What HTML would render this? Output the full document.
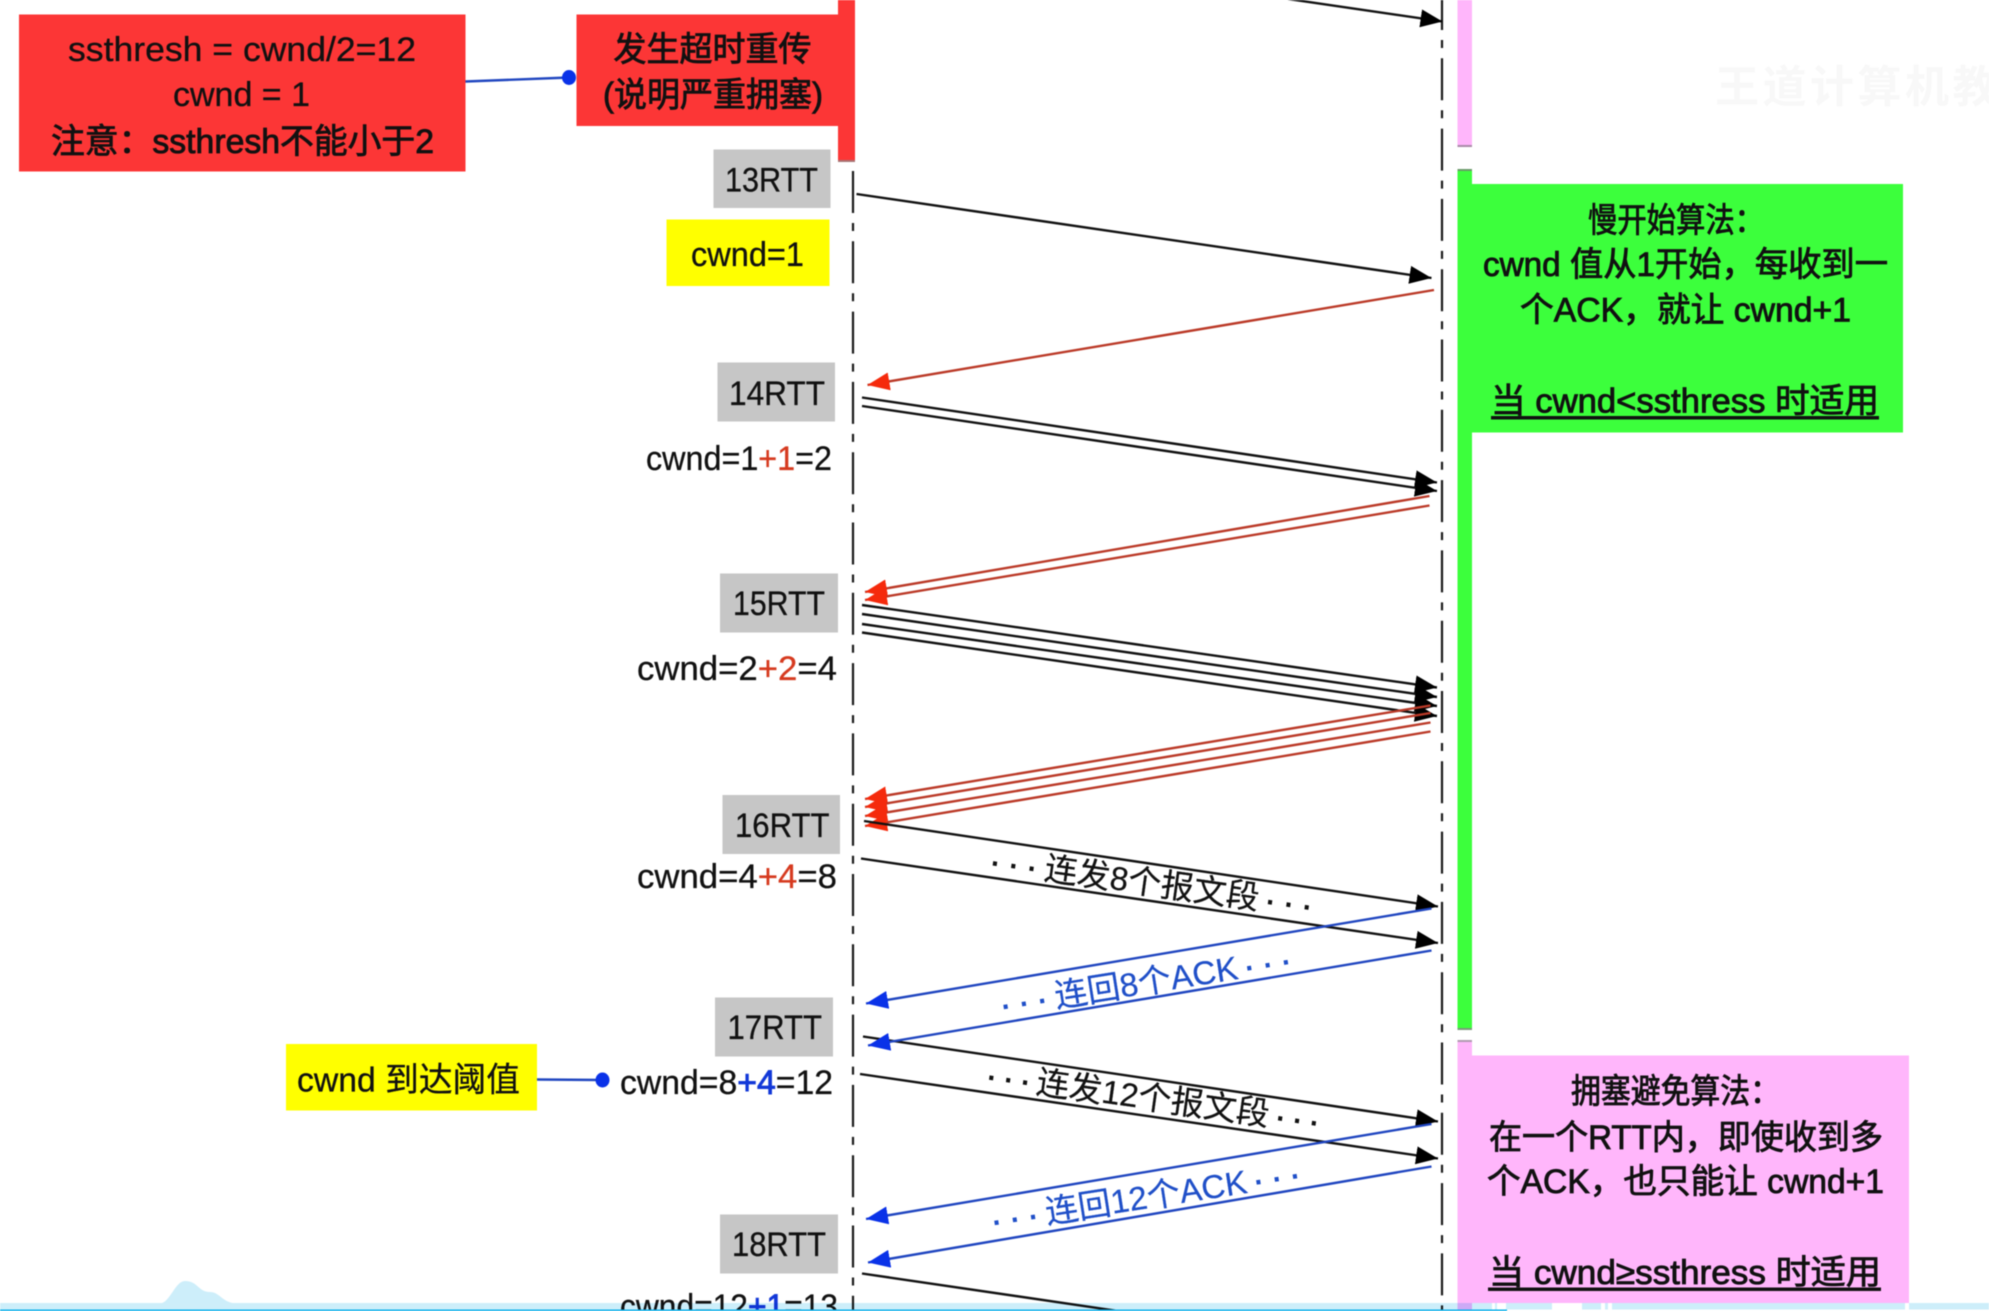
<!DOCTYPE html>
<html lang="zh">
<head>
<meta charset="utf-8">
<title>TCP congestion control</title>
<style>
html,body{margin:0;padding:0;background:#fff;width:1989px;height:1311px;overflow:hidden}
svg{display:block;position:absolute;left:0;top:0;filter:blur(.55px)}
text{font-family:"Liberation Sans","Noto Sans CJK SC",sans-serif;fill:#111}
.t{font-size:34px;stroke:#111;stroke-width:.3px;transform:translateY(1px)}
.b{font-size:34px;stroke:#111;stroke-width:.85px;transform:translateY(1px)}
.r{font-size:33px;stroke:#111;stroke-width:.2px}
.bl{fill:#1f4fc8;stroke:#1f4fc8}
.d{stroke-width:.9px}
</style>
</head>
<body>
<svg width="1989" height="1311" viewBox="0 0 1989 1311" xmlns="http://www.w3.org/2000/svg">
<defs>
<marker id="hk" markerUnits="userSpaceOnUse" markerWidth="24" markerHeight="20" refX="22" refY="9" orient="auto"><path d="M0,0L22,9L0,18Z" fill="#000"/></marker>
<marker id="hr" markerUnits="userSpaceOnUse" markerWidth="24" markerHeight="20" refX="22" refY="9" orient="auto"><path d="M0,0L22,9L0,18Z" fill="#f52a0c"/></marker>
<marker id="hb" markerUnits="userSpaceOnUse" markerWidth="24" markerHeight="20" refX="22" refY="9" orient="auto"><path d="M0,0L22,9L0,18Z" fill="#0a32e8"/></marker>
</defs>

<rect width="1989" height="1311" fill="#fff"/>

<!-- watermark -->
<text x="1715" y="102" font-size="44" font-weight="bold" letter-spacing="3.5" style="fill:#f8f8f8">王道计算机教育</text>

<!-- timelines -->
<g stroke="#1a1a1a" stroke-width="2.2" fill="none" stroke-dasharray="42 10 8 10.3">
<line x1="853" y1="171" x2="853" y2="1311"/>
<line x1="1442" y1="-12" x2="1442" y2="1311"/>
</g>

<!-- red -->
<rect x="19" y="14.5" width="446.5" height="157" fill="#fc3636"/>
<rect x="576.5" y="14.5" width="262" height="111.5" fill="#fc3636"/>
<rect x="838" y="0" width="17" height="160" fill="#fc3636"/>
<rect x="838" y="160" width="17" height="2" fill="#a87474"/>
<line x1="465.5" y1="81.5" x2="569" y2="77.5" stroke="#2046c0" stroke-width="2.4"/>
<ellipse cx="569" cy="77.5" rx="7" ry="7.5" fill="#0a32e8"/>
<text class="t" x="68" y="60" textLength="348" lengthAdjust="spacingAndGlyphs">ssthresh = cwnd/2=12</text>
<text class="t" x="173" y="105" textLength="137" lengthAdjust="spacingAndGlyphs">cwnd = 1</text>
<text class="b" x="51" y="152" textLength="383" lengthAdjust="spacingAndGlyphs">注意：ssthresh不能小于2</text>
<text class="b" x="613.5" y="60" textLength="198" lengthAdjust="spacingAndGlyphs">发生超时重传</text>
<text class="b" x="603" y="105.5" textLength="220" lengthAdjust="spacingAndGlyphs">(说明严重拥塞)</text>

<!-- pink/green bars -->
<rect x="1457.5" y="0" width="14.5" height="145" fill="#ffb6fb"/>
<rect x="1457.5" y="145" width="14.5" height="2" fill="#a98aa8"/>
<rect x="1457.5" y="171" width="14.5" height="857" fill="#3cff3c"/>
<rect x="1457.5" y="169" width="14.5" height="2" fill="#6a9a6a"/>
<rect x="1457.5" y="1028" width="14.5" height="2" fill="#7a9a7a"/>
<rect x="1472" y="184" width="431" height="248.5" fill="#3cff3c"/>
<rect x="1457.5" y="1042" width="14.5" height="269" fill="#ffb6fb"/>
<rect x="1457.5" y="1040" width="14.5" height="2" fill="#b09ab0"/>
<rect x="1472" y="1055.5" width="437" height="247.5" fill="#ffb6fb"/>

<!-- green text -->
<text class="b" x="1588" y="231" textLength="176" lengthAdjust="spacingAndGlyphs">慢开始算法：</text>
<text class="b" x="1483" y="275" textLength="405" lengthAdjust="spacingAndGlyphs">cwnd 值从1开始，每收到一</text>
<text class="b" x="1520" y="320.5" textLength="331" lengthAdjust="spacingAndGlyphs">个ACK，就让 cwnd+1</text>
<text class="b" x="1491" y="411.5" textLength="388" lengthAdjust="spacingAndGlyphs">当 cwnd&lt;ssthress 时适用</text>
<rect x="1491" y="416" width="388" height="3.5" fill="#111"/>

<!-- pink text -->
<text class="b" x="1571" y="1102" textLength="209" lengthAdjust="spacingAndGlyphs">拥塞避免算法：</text>
<text class="b" x="1489" y="1148" textLength="394" lengthAdjust="spacingAndGlyphs">在一个RTT内，即使收到多</text>
<text class="b" x="1487" y="1192" textLength="397" lengthAdjust="spacingAndGlyphs">个ACK，也只能让 cwnd+1</text>
<text class="b" x="1489" y="1283" textLength="392" lengthAdjust="spacingAndGlyphs">当 cwnd≥ssthress 时适用</text>
<rect x="1488" y="1287.5" width="393" height="3.5" fill="#111"/>

<!-- gray RTT boxes -->
<g fill="#c6c6c6">
<rect x="713.5" y="149.5" width="117" height="58.5"/>
<rect x="717.5" y="362.5" width="117.5" height="59"/>
<rect x="720" y="573.5" width="118" height="59"/>
<rect x="722.5" y="795" width="117.5" height="59"/>
<rect x="715" y="997.5" width="118" height="59"/>
<rect x="720" y="1214.5" width="118" height="59"/>
</g>
<text class="t" x="725" y="190.5" textLength="93" lengthAdjust="spacingAndGlyphs">13RTT</text>
<text class="t" x="729" y="404" textLength="96" lengthAdjust="spacingAndGlyphs">14RTT</text>
<text class="t" x="733" y="614" textLength="92" lengthAdjust="spacingAndGlyphs">15RTT</text>
<text class="t" x="735" y="836" textLength="94.5" lengthAdjust="spacingAndGlyphs">16RTT</text>
<text class="t" x="727.5" y="1038" textLength="94.5" lengthAdjust="spacingAndGlyphs">17RTT</text>
<text class="t" x="732" y="1255" textLength="94" lengthAdjust="spacingAndGlyphs">18RTT</text>

<!-- yellow -->
<rect x="666.5" y="219.5" width="163" height="66.5" fill="#ffff00"/>
<text class="t" x="691" y="265" textLength="113" lengthAdjust="spacingAndGlyphs">cwnd=1</text>
<rect x="286" y="1044" width="251" height="66.5" fill="#ffff00"/>
<text class="t" x="297" y="1090.5" textLength="223" lengthAdjust="spacingAndGlyphs">cwnd 到达阈值</text>
<line x1="537" y1="1079.5" x2="602" y2="1080" stroke="#2046c0" stroke-width="2.4"/>
<ellipse cx="602.5" cy="1080" rx="7" ry="7.5" fill="#0a32e8"/>

<!-- cwnd labels -->
<text class="t" x="646" y="469" textLength="186" lengthAdjust="spacingAndGlyphs">cwnd=1<tspan style="fill:#d63a1f;stroke:#d63a1f">+1</tspan>=2</text>
<text class="t" x="637" y="679" textLength="200" lengthAdjust="spacingAndGlyphs">cwnd=2<tspan style="fill:#d63a1f;stroke:#d63a1f">+2</tspan>=4</text>
<text class="t" x="637" y="887" textLength="200" lengthAdjust="spacingAndGlyphs">cwnd=4<tspan style="fill:#d63a1f;stroke:#d63a1f">+4</tspan>=8</text>
<text class="t" x="620" y="1093" textLength="213" lengthAdjust="spacingAndGlyphs">cwnd=8<tspan style="fill:#1238d8;stroke:#1238d8;stroke-width:.9px">+4</tspan>=12</text>
<text class="t" x="620" y="1317" textLength="218" lengthAdjust="spacingAndGlyphs">cwnd=12<tspan style="fill:#1238d8;stroke:#1238d8;stroke-width:.9px">+1</tspan>=13</text>

<!-- black arrows -->
<g stroke="#111" stroke-width="2.4" fill="none">
<line x1="1288" y1="-1" x2="1442.5" y2="21.5" marker-end="url(#hk)"/>
<line x1="856.5" y1="194" x2="1431.5" y2="278" marker-end="url(#hk)"/>
<line x1="862" y1="397.5" x2="1437" y2="482.5" marker-end="url(#hk)"/>
<line x1="862" y1="406" x2="1437" y2="491" marker-end="url(#hk)"/>
<line x1="862" y1="605" x2="1437" y2="687.5" marker-end="url(#hk)"/>
<line x1="862" y1="614" x2="1437" y2="697" marker-end="url(#hk)"/>
<line x1="862" y1="624" x2="1437" y2="706" marker-end="url(#hk)"/>
<line x1="862" y1="632.5" x2="1437" y2="716" marker-end="url(#hk)"/>
</g>

<!-- red arrows -->
<g stroke="#bb3a28" stroke-width="2.4" fill="none">
<line x1="1434" y1="290" x2="867.5" y2="385" marker-end="url(#hr)"/>
<line x1="1429.5" y1="496" x2="865" y2="592" marker-end="url(#hr)"/>
<line x1="1429.5" y1="505.5" x2="865" y2="600" marker-end="url(#hr)"/>
<line x1="1430.5" y1="705.5" x2="865" y2="799" marker-end="url(#hr)"/>
<line x1="1430.5" y1="713" x2="865" y2="807" marker-end="url(#hr)"/>
<line x1="1430.5" y1="722.5" x2="865" y2="816" marker-end="url(#hr)"/>
<line x1="1430.5" y1="731.5" x2="865" y2="826" marker-end="url(#hr)"/>
</g>

<!-- black 16/17/18 arrows -->
<g stroke="#111" stroke-width="2.4" fill="none">
<line x1="864" y1="821" x2="1438" y2="906.5" marker-end="url(#hk)"/>
<line x1="861" y1="858.5" x2="1438" y2="943" marker-end="url(#hk)"/>
<line x1="863" y1="1036.5" x2="1438" y2="1121.5" marker-end="url(#hk)"/>
<line x1="860" y1="1074" x2="1438" y2="1158.5" marker-end="url(#hk)"/>
<line x1="862" y1="1273.5" x2="1118" y2="1311"/>
</g>

<!-- blue arrows -->
<g stroke="#2046c0" stroke-width="2.4" fill="none">
<line x1="1431.5" y1="908.5" x2="866" y2="1003.5" marker-end="url(#hb)"/>
<line x1="1431.5" y1="950.5" x2="868" y2="1045.5" marker-end="url(#hb)"/>
<line x1="1431.5" y1="1124" x2="866" y2="1219" marker-end="url(#hb)"/>
<line x1="1431.5" y1="1166.5" x2="868" y2="1262.5" marker-end="url(#hb)"/>
</g>

<!-- rotated labels -->
<g transform="translate(1155,883) rotate(8)"><text class="r" y="12" text-anchor="middle"><tspan class="d" letter-spacing="7.5">···</tspan>连发8个报文段<tspan class="d" dx="6" letter-spacing="7.5">···</tspan></text></g>
<g transform="translate(1149,981) rotate(-9)"><text class="r bl" y="12" text-anchor="middle"><tspan class="d" letter-spacing="7.5">···</tspan>连回8个ACK<tspan class="d" dx="6" letter-spacing="7.5">···</tspan></text></g>
<g transform="translate(1156,1098) rotate(8)"><text class="r" y="12" text-anchor="middle"><tspan class="d" letter-spacing="6">···</tspan>连发12个报文段<tspan class="d" dx="6" letter-spacing="6">···</tspan></text></g>
<g transform="translate(1149,1196) rotate(-8.8)"><text class="r bl" y="12" text-anchor="middle"><tspan class="d" letter-spacing="7.5">···</tspan>连回12个ACK<tspan class="d" dx="6" letter-spacing="7.5">···</tspan></text></g>

<!-- bottom band -->
<g style="mix-blend-mode:multiply">
<rect x="0" y="1303" width="1989" height="6.5" fill="#cdeefa"/>
<path d="M160,1303.5C170,1303 175,1281 185,1281C198,1281 198,1292 210,1292C220,1292 222,1303 237,1303.5Z" fill="#cdeefa"/>
</g>
<rect x="1472" y="1303" width="437" height="6.5" fill="#cdeefa"/>
<g fill="#fff">
<rect x="1492" y="1303" width="3" height="6.5"/>
<rect x="1497" y="1303" width="9" height="6.5"/>
<rect x="1552" y="1303" width="30" height="6.5"/>
<rect x="1601" y="1303" width="4" height="6.5"/>
<rect x="1608" y="1303" width="4" height="6.5"/>
<rect x="1905" y="1303" width="4" height="6.5"/>
</g>
<rect x="0" y="1309.5" width="1507" height="1.5" fill="#0ab0ea"/>
</svg>
</body>
</html>
